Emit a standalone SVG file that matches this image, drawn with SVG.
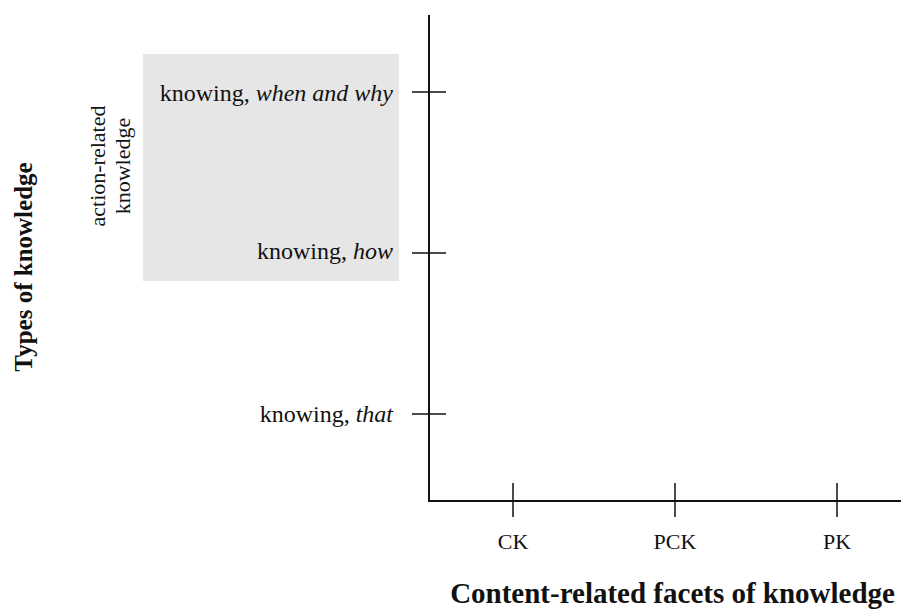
<svg xmlns="http://www.w3.org/2000/svg" width="901" height="609" viewBox="0 0 901 609">
<style>
.t{font-family:"Liberation Serif","Times New Roman",serif;font-size:24px;fill:#111}
.s{font-family:"Liberation Serif","Times New Roman",serif;font-size:22px;fill:#111}
.b{font-family:"Liberation Serif","Times New Roman",serif;font-weight:bold;fill:#111}
.ax{stroke:#111;stroke-width:2;fill:none}
.tk{stroke:#111;stroke-width:1.5;fill:none}
</style>
<rect x="143" y="54" width="256" height="227" fill="#e6e6e6"/>
<g id="axes">
<path class="ax" d="M429,15 V501 H901"/>
</g>
<g id="connectors">
<path class="tk" d="M412,92 H446 M412,253 H446 M412,414 H446"/>
<path class="tk" d="M513,483 V517 M675,483 V517 M837,483 V517"/>
</g>
<g id="y-labels">
<text class="t" x="393" y="101" text-anchor="end">knowing, <tspan font-style="italic">when and why</tspan></text>
<text class="t" x="393" y="259" text-anchor="end">knowing, <tspan font-style="italic">how</tspan></text>
<text class="t" x="393" y="422" text-anchor="end">knowing, <tspan font-style="italic">that</tspan></text>
</g>
<g id="action-related">
<text class="s" transform="translate(105,166) rotate(-90)" text-anchor="middle">action-related</text>
<text class="s" transform="translate(130,166) rotate(-90)" text-anchor="middle">knowledge</text>
</g>
<g id="x-labels">
<text class="s" x="513" y="549" text-anchor="middle">CK</text>
<text class="s" x="675" y="549" text-anchor="middle">PCK</text>
<text class="s" x="837" y="549" text-anchor="middle">PK</text>
</g>
<text class="b" font-size="25" transform="translate(32,267) rotate(-90)" text-anchor="middle">Types of knowledge</text>
<text class="b" font-size="29" x="895" y="603" text-anchor="end">Content-related facets of knowledge</text>
</svg>
